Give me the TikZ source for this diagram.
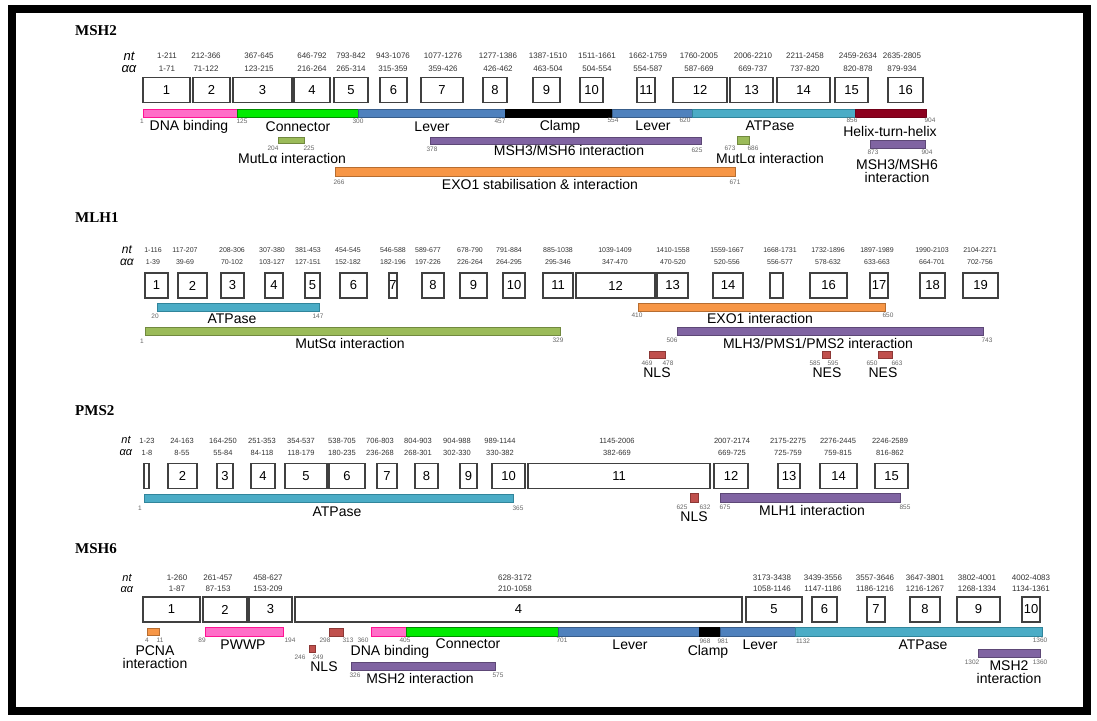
\documentclass[tikz,border=0pt]{standalone}
\usepackage{fontspec}
\setmainfont{Liberation Sans}
\newfontfamily\genefont{Liberation Serif}
\definecolor{dnapink}{RGB}{255,110,200}
\definecolor{dnapinkd}{RGB}{255,20,147}
\definecolor{conngreen}{RGB}{0,235,0}
\definecolor{conngreend}{RGB}{0,140,0}
\definecolor{leverblue}{RGB}{79,129,189}
\definecolor{leverblued}{RGB}{56,93,138}
\definecolor{atpteal}{RGB}{75,172,198}
\definecolor{atpteald}{RGB}{49,133,155}
\definecolor{hthred}{RGB}{140,0,30}
\definecolor{mutolive}{RGB}{155,187,89}
\definecolor{mutolived}{RGB}{113,137,63}
\definecolor{msh3purple}{RGB}{128,100,162}
\definecolor{msh3purpled}{RGB}{93,72,118}
\definecolor{exoorange}{RGB}{247,150,70}
\definecolor{exoorianged}{RGB}{182,109,49}
\definecolor{nlsred}{RGB}{192,80,77}
\definecolor{nlsredd}{RGB}{140,56,54}
\usetikzlibrary{positioning}

\begin{document}
\begin{tikzpicture}[x=1pt,y=-1pt,
  gene/.style={font=\genefont\fontsize{15}{15}\selectfont\bfseries,anchor=west,inner sep=0pt},
  ntaa/.style={font=\fontsize{12}{12}\selectfont\itshape,inner sep=0pt},
  exon/.style={draw=black!75,line width=1.4pt,fill=white,
    font=\fontsize{13}{13}\selectfont,minimum height=25pt,inner sep=0pt},
  num/.style={font=\fontsize{8}{8}\selectfont,text=black!80,inner sep=0pt},
  posnum/.style={font=\fontsize{6.5}{6.5}\selectfont,text=black!60,inner sep=0pt},
  lbl/.style={font=\fontsize{14}{14}\selectfont,inner sep=0pt},
  dom/.style={line width=0.7pt},
  dna/.style={dom,fill=dnapink,draw=dnapinkd},
  conn/.style={dom,fill=conngreen,draw=conngreend},
  lever/.style={dom,fill=leverblue,draw=leverblued},
  clamp/.style={dom,fill=black,draw=black},
  atp/.style={dom,fill=atpteal,draw=atpteald},
  hth/.style={dom,fill=hthred,draw=hthred!80!black},
  mutl/.style={dom,fill=mutolive,draw=mutolived},
  partner/.style={dom,fill=msh3purple,draw=msh3purpled},
  exo/.style={dom,fill=exoorange,draw=exoorianged},
  nls/.style={dom,fill=nlsred,draw=nlsredd}
]
  \useasboundingbox (0,0) rectangle (1097,720);
  \draw[line width=7.5pt] (12,9) rectangle (1087,711);

  % MSH2 exons
  \node[gene] (msh2) at (75,31) {MSH2};
  \node[ntaa,font=\fontsize{13}{13}\selectfont\itshape] (msh2nt) at (129,56) {nt};
  \node[ntaa,font=\fontsize{13}{13}\selectfont\itshape] (msh2aa) at (129,69) {αα};
  \foreach \a/\b/\n/\lx/\nt/\aa [count=\i] in {
    143/190/1/167/1-211/1-71, 193/230/2/206/212-366/71-122,
    233/292/3/259/367-645/123-215, 294/330/4/312/646-792/216-264,
    334/368/5/351/793-842/265-314, 380/407/6/393/943-1076/315-359,
    421/463/7/443/1077-1276/359-426, 483/507/8/498/1277-1386/426-462,
    533/560/9/548/1387-1510/463-504, 580/603/10/597/1511-1661/504-554,
    637/655/11/648/1662-1759/554-587, 673/727/12/699/1760-2005/587-669,
    730/773/13/753/2006-2210/669-737, 777/830/14/805/2211-2458/737-820,
    835/868/15/858/2459-2634/820-878, 888/923/16/902/2635-2805/879-934} {
    \node[exon,minimum width=\b-\a] (msh2x\i) at ({(\a+\b)/2},90) {\n};
    \node[num] (msh2nt\i) at (\lx,56) {\nt};
    \node[num] (msh2aa\i) at (\lx,69) {\aa};
  }
  % MSH2 domains
  \filldraw[dna] (143,109) rectangle (237,117);
  \filldraw[conn] (237,109) rectangle (358,117);
  \filldraw[lever] (358,109) rectangle (505,117);
  \filldraw[clamp] (505,109) rectangle (612,117);
  \filldraw[lever] (612,109) rectangle (692,117);
  \filldraw[atp] (692,109) rectangle (855,117);
  \filldraw[hth] (855,109) rectangle (926,117);
  \filldraw[mutl] (278,137) rectangle (304,143);
  \filldraw[partner] (430,137) rectangle (701,144);
  \filldraw[mutl] (737,136) rectangle (749,144);
  \filldraw[partner] (870,140) rectangle (925,148);
  \filldraw[exo] (335,167) rectangle (735,176);
  \foreach \x/\y/\t [count=\k] in {142/121/1, 242/121/125, 358/121/300, 500/121/457,
    613/120/554, 685/120/620, 852/120/856, 930/120/904, 273/148/204, 309/148/225,
    432/149/378, 697/150/625, 730/148/673, 753/148/686, 873/152/873, 927/152/904,
    339/182/266, 735/182/671}
    \node[posnum] (msh2p\k) at (\x,\y) {\t};
  \node[lbl] (msh2dna) at (189,127) {DNA binding};
  \node[lbl] (msh2conn) at (298,127) {Connector};
  \node[lbl] (msh2lev) at (432,127) {Lever};
  \node[lbl] (msh2clamp) at (560,127) {Clamp};
  \node[lbl] (msh2levb) at (653,126) {Lever};
  \node[lbl] (msh2atp) at (770,126) {ATPase};
  \node[lbl] (msh2hth) at (890,131) {Helix-turn-helix};
  \node[lbl] (msh2mutl) at (292,158) {MutLα interaction};
  \node[lbl] (msh2msh3) at (569,150) {MSH3/MSH6 interaction};
  \node[lbl] (msh2mutlb) at (770,158) {MutLα interaction};
  \node[lbl,align=center] (msh2msh3b) at (897,171) {MSH3/MSH6\\[-1pt]interaction};
  \node[lbl] (msh2exo) at (540,184) {EXO1 stabilisation \& interaction};

  % MLH1 exons
  \node[gene] (mlh1) at (75,218) {MLH1};
  \node[ntaa] (mlh1nt) at (127,250) {nt};
  \node[ntaa] (mlh1aa) at (127,262) {αα};
  \foreach \a/\b/\n/\lx/\nt/\aa [count=\i] in {
    145/168/1/153/1-116/1-39, 178/207/2/185/117-207/39-69,
    221/244/3/232/208-306/70-102, 265/283/4/272/307-380/103-127,
    305/320/5/308/381-453/127-151, 340/367/6/348/454-545/152-182,
    389/397/7/393/546-588/182-196, 422/444/8/428/589-677/197-226,
    460/487/9/470/678-790/226-264, 503/525/10/509/791-884/264-295,
    543/573/11/558/885-1038/295-346, 576/655/12/615/1039-1409/347-470,
    657/688/13/673/1410-1558/470-520, 713/743/14/727/1559-1667/520-556,
    770/783/{}/780/1668-1731/556-577, 810/847/16/828/1732-1896/578-632,
    870/888/17/877/1897-1989/633-663, 920/945/18/932/1990-2103/664-701,
    963/998/19/980/2104-2271/702-756} {
    \node[exon,minimum width=\b-\a] (mlh1x\i) at ({(\a+\b)/2},285.5) {\n};
    \node[num,font=\fontsize{7}{7}\selectfont] (mlh1nt\i) at (\lx,250) {\nt};
    \node[num,font=\fontsize{7}{7}\selectfont] (mlh1aa\i) at (\lx,262) {\aa};
  }
  % MLH1 domains
  \filldraw[atp] (157,303) rectangle (319,311);
  \filldraw[exo] (638,303) rectangle (885,311);
  \filldraw[mutl] (145,327) rectangle (560,335);
  \filldraw[partner] (677,327) rectangle (983,335);
  \filldraw[nls] (649,351) rectangle (665,358);
  \filldraw[nls] (822,351) rectangle (830,358);
  \filldraw[nls] (878,351) rectangle (892,358);
  \foreach \x/\y/\t [count=\k] in {155/316/20, 318/316/147, 637/315/410, 888/315/650,
    142/341/1, 558/340/329, 672/340/506, 987/340/743, 647/363/469, 668/363/478,
    815/363/585, 833/363/595, 872/363/650, 897/363/663}
    \node[posnum] (mlh1p\k) at (\x,\y) {\t};
  \node[lbl] (mlh1atp) at (232,319) {ATPase};
  \node[lbl] (mlh1exo) at (760,318) {EXO1 interaction};
  \node[lbl] (mlh1muts) at (350,343) {MutSα interaction};
  \node[lbl] (mlh1pms) at (818,343) {MLH3/PMS1/PMS2 interaction};
  \node[lbl] (mlh1nls) at (657,373) {NLS};
  \node[lbl] (mlh1nes) at (827,373) {NES};
  \node[lbl] (mlh1nesb) at (883,373) {NES};

  % PMS2 exons
  \node[gene] (pms2) at (75,411) {PMS2};
  \node[ntaa,font=\fontsize{11}{11}\selectfont\itshape] (pms2nt) at (126,440) {nt};
  \node[ntaa,font=\fontsize{11}{11}\selectfont\itshape] (pms2aa) at (126,453) {αα};
  \foreach \a/\b/\n/\lx/\nt/\aa [count=\i] in {
    144/149/{}/147/1-23/1-8, 168/197/2/182/24-163/8-55,
    217/233/3/223/164-250/55-84, 251/275/4/262/251-353/84-118,
    285/327/5/301/354-537/118-179, 329/365/6/342/538-705/180-235,
    377/397/7/380/706-803/236-268, 415/438/8/418/804-903/268-301,
    460/477/9/457/904-988/302-330, 492/525/10/500/989-1144/330-382,
    528/710/11/617/1145-2006/382-669, 714/748/12/732/2007-2174/669-725,
    778/800/13/788/2175-2275/725-759, 820/857/14/838/2276-2445/759-815,
    875/908/15/890/2246-2589/816-862} {
    \node[exon,minimum width=\b-\a] (pms2x\i) at ({(\a+\b)/2},476) {\n};
    \node[num,font=\fontsize{7.5}{7.5}\selectfont] (pms2nt\i) at (\lx,441) {\nt};
    \node[num,font=\fontsize{7.5}{7.5}\selectfont] (pms2aa\i) at (\lx,453) {\aa};
  }
  % PMS2 domains
  \filldraw[atp] (144,494) rectangle (513,502);
  \filldraw[nls] (690,493) rectangle (698,502);
  \filldraw[partner] (720,493) rectangle (900,502);
  \foreach \x/\y/\t [count=\k] in {140/508/1, 518/508/365, 682/507/625, 705/507/632,
    725/507/675, 905/507/855}
    \node[posnum] (pms2p\k) at (\x,\y) {\t};
  \node[lbl] (pms2atp) at (337,512) {ATPase};
  \node[lbl] (pms2nls) at (694,517) {NLS};
  \node[lbl] (pms2mlh1) at (812,510) {MLH1 interaction};

  % MSH6 exons
  \node[gene] (msh6) at (75,549) {MSH6};
  \node[ntaa,font=\fontsize{11}{11}\selectfont\itshape] (msh6nt) at (127,578) {nt};
  \node[ntaa,font=\fontsize{11}{11}\selectfont\itshape] (msh6aa) at (127,590) {αα};
  \foreach \a/\b/\n/\lx/\nt/\aa [count=\i] in {
    143/200/1/177/1-260/1-87, 203/247/2/218/261-457/87-153,
    249/292/3/268/458-627/153-209, 295/742/4/515/628-3172/210-1058,
    746/802/5/772/3173-3438/1058-1146, 812/837/6/823/3439-3556/1147-1186,
    867/885/7/875/3557-3646/1186-1216, 910/940/8/925/3647-3801/1216-1267,
    957/1000/9/977/3802-4001/1268-1334, 1022/1040/10/1031/4002-4083/1134-1361} {
    \node[exon,minimum width=\b-\a] (msh6x\i) at ({(\a+\b)/2},609.5) {\n};
    \node[num] (msh6nt\i) at (\lx,578) {\nt};
    \node[num] (msh6aa\i) at (\lx,589) {\aa};
  }
  % MSH6 domains
  \filldraw[exo] (147,628) rectangle (159,635);
  \filldraw[dna] (205,627) rectangle (283,636);
  \filldraw[nls] (329,628) rectangle (343,636);
  \filldraw[nls] (309,645) rectangle (315,652);
  \filldraw[dna] (371,627) rectangle (406,636);
  \filldraw[conn] (406,627) rectangle (558,636);
  \filldraw[lever] (558,627) rectangle (699,636);
  \filldraw[clamp] (699,627) rectangle (720,636);
  \filldraw[lever] (720,627) rectangle (795,636);
  \filldraw[atp] (795,627) rectangle (1042,636);
  \filldraw[partner] (351,662) rectangle (495,670);
  \filldraw[partner] (978,649) rectangle (1040,657);
  \foreach \x/\y/\t [count=\k] in {147/640/4, 160/640/11, 202/640/89, 290/640/194,
    325/640/298, 348/640/313, 300/657/246, 318/657/249, 363/640/360, 405/640/405,
    562/640/701, 705/641/968, 723/641/981, 803/641/1132, 1040/640/1360,
    355/675/326, 498/675/575, 972/662/1302, 1040/662/1360}
    \node[posnum] (msh6p\k) at (\x,\y) {\t};
  \node[lbl,align=center] (msh6pcna) at (155,657) {PCNA\\[-1pt]interaction};
  \node[lbl] (msh6pwwp) at (243,645) {PWWP};
  \node[lbl] (msh6nls) at (324,667) {NLS};
  \node[lbl] (msh6dna) at (390,652) {DNA binding};
  \node[lbl] (msh6conn) at (468,644) {Connector};
  \node[lbl] (msh6lev) at (630,645) {Lever};
  \node[lbl] (msh6clamp) at (708,652) {Clamp};
  \node[lbl] (msh6levb) at (760,645) {Lever};
  \node[lbl] (msh6atp) at (923,645) {ATPase};
  \node[lbl] (msh6msh2) at (420,678) {MSH2 interaction};
  \node[lbl,align=center] (msh6msh2b) at (1009,672) {MSH2\\[-1pt]interaction};
\end{tikzpicture}
\end{document}
